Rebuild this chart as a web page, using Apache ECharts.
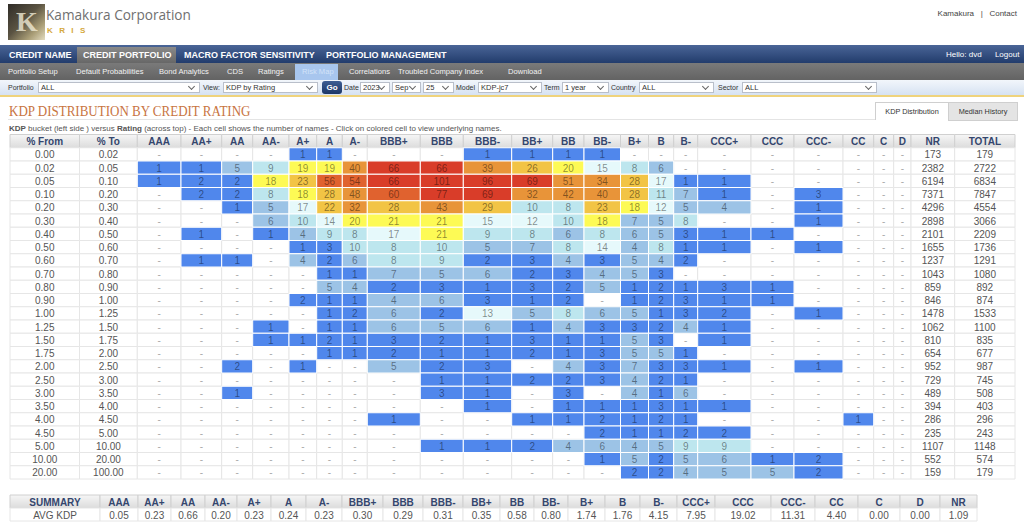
<!DOCTYPE html>
<html>
<head>
<meta charset="utf-8">
<script src="https://cdn.jsdelivr.net/npm/echarts@6/dist/echarts.min.js"></script>
<style>
  html,body{margin:0;padding:0;background:#fff;}
  body{width:1024px;height:527px;overflow:hidden;position:relative;font-family:"Liberation Sans",Arial,sans-serif;}
  .abs{position:absolute;white-space:nowrap;}
  .logo{left:8px;top:4px;width:37px;height:36px;background:linear-gradient(135deg,#2f2c27 0%,#5a5342 45%,#a99d76 75%,#e3dcc0 100%);overflow:hidden;}
  .logo span{position:absolute;left:8px;top:0;font:bold 28px/36px "Liberation Serif",serif;color:#efe9d3;opacity:.8;}
  .corp{left:46px;top:5px;font:13.6px/18px "Open Sans",sans-serif;color:#707070;transform:scaleY(1.1);transform-origin:0 0;}
  .kris{left:47px;top:26px;font:bold 8px/9px "Liberation Sans",Arial,sans-serif;color:#d5a83c;letter-spacing:6.4px;}
  .toplinks{right:7px;top:9px;font:8px "Liberation Sans",Arial;color:#444;}
  #nav{left:0;top:45px;width:1024px;height:18px;background:linear-gradient(#4a6597,#223c6c);}
  #nav .it{position:absolute;top:5px;font:bold 9px "Liberation Sans",Arial;color:#fff;}
  #nav .act{position:absolute;left:77px;top:2px;width:99px;height:16px;background:linear-gradient(#8a8a8a,#676767);}
  #sub{left:0;top:63px;width:1024px;height:17px;background:linear-gradient(#7a7a7a,#636363);}
  #sub .it{position:absolute;top:4px;font:7.6px "Liberation Sans",Arial;color:#f2f2f2;}
  #sub .act{position:absolute;left:295px;top:1px;width:43px;height:16px;background:#a8c6ee;}
  #flt{left:0;top:80px;width:1024px;height:15px;background:linear-gradient(#f2f6fb,#d6e2f2);border-bottom:2px solid #efd37c;}
  #flt .lb{position:absolute;top:4px;font:7px "Liberation Sans",Arial;color:#333;}
  #flt .sel{position:absolute;top:2px;height:11px;background:#fff;border:1px solid #b9bfca;font:7.5px "Liberation Sans",Arial;color:#333;line-height:10px;padding-left:2px;box-sizing:border-box;}
  #flt .sel i{position:absolute;right:5px;top:1px;width:4px;height:4px;border-right:1px solid #666;border-bottom:1px solid #666;transform:rotate(45deg);}
  #flt .go{position:absolute;left:322px;top:1px;width:20px;height:13px;border-radius:3px;background:linear-gradient(#3d5d93,#1d3766);color:#fff;font:bold 8px "Liberation Sans",Arial;text-align:center;line-height:13px;}
  .title{left:9px;top:102px;font:13px "Liberation Serif",serif;color:#c8743f;transform:scaleY(1.2);transform-origin:0 0;}
  .rule{left:8px;top:119px;width:867px;height:1px;background:#e4e4e4;}
  .tab1{left:875px;top:102px;width:72px;height:17px;border:1px solid #cfcfcf;border-bottom:none;background:#fff;font:7.3px "Liberation Sans",Arial;color:#333;text-align:center;line-height:17px;}
  .tab2{left:948px;top:102px;width:68px;height:17px;border:1px solid #cfcfcf;background:#e4e4e4;font:7.3px "Liberation Sans",Arial;color:#333;text-align:center;line-height:17px;}
  .desc{left:9px;top:124px;font:8px "Liberation Sans",Arial;color:#555;}
  #chart{position:absolute;left:0;top:130px;width:1024px;height:397px;}
</style>
</head>
<body>
<div class="abs logo"><span>K</span></div>
<div class="abs corp">Kamakura Corporation</div>
<div class="abs kris">KRIS</div>
<div class="abs toplinks">Kamakura &nbsp;&nbsp;|&nbsp;&nbsp; Contact</div>

<div class="abs" id="nav">
  <div class="act"></div>
  <span class="it" style="left:9px">CREDIT NAME</span>
  <span class="it" style="left:83px">CREDIT PORTFOLIO</span>
  <span class="it" style="left:184px">MACRO FACTOR SENSITIVITY</span>
  <span class="it" style="left:326px">PORTFOLIO MANAGEMENT</span>
  <span class="it" style="left:946px;font-weight:normal;font-size:8px;top:5px">Hello: dvd &nbsp;&nbsp;&nbsp;&nbsp; Logout</span>
</div>
<div class="abs" id="sub">
  <div class="act"></div>
  <span class="it" style="left:8px">Portfolio Setup</span>
  <span class="it" style="left:76px">Default Probabilities</span>
  <span class="it" style="left:159px">Bond Analytics</span>
  <span class="it" style="left:227px">CDS</span>
  <span class="it" style="left:258px">Ratings</span>
  <span class="it" style="left:302px;color:#d3e3f8">Risk Map</span>
  <span class="it" style="left:349px">Correlations</span>
  <span class="it" style="left:398px">Troubled Company Index</span>
  <span class="it" style="left:508px">Download</span>
</div>
<div class="abs" id="flt">
  <span class="lb" style="left:8px">Portfolio</span>
  <span class="sel" style="left:38px;width:162px">ALL<i></i></span>
  <span class="lb" style="left:203px">View:</span>
  <span class="sel" style="left:223px;width:95px">KDP by Rating<i></i></span>
  <span class="go">Go</span>
  <span class="lb" style="left:344px">Date</span>
  <span class="sel" style="left:360px;width:30px">2023<i></i></span>
  <span class="sel" style="left:392px;width:29px">Sep<i></i></span>
  <span class="sel" style="left:423px;width:31px">25<i></i></span>
  <span class="lb" style="left:456px">Model</span>
  <span class="sel" style="left:478px;width:64px">KDP-jc7<i></i></span>
  <span class="lb" style="left:544px">Term</span>
  <span class="sel" style="left:562px;width:47px">1 year<i></i></span>
  <span class="lb" style="left:611px">Country</span>
  <span class="sel" style="left:639px;width:75px">ALL<i></i></span>
  <span class="lb" style="left:718px">Sector</span>
  <span class="sel" style="left:742px;width:135px">ALL<i></i></span>
</div>
<div class="abs title" id="title">KDP DISTRIBUTION BY CREDIT RATING</div>
<div class="abs rule"></div>
<div class="abs tab1">KDP Distribution</div>
<div class="abs tab2">Median History</div>
<div class="abs desc"><b>KDP</b> bucket (left side ) versus <b>Rating</b> (across top) - Each cell shows the number of names - Click on colored cell to view underlying names.</div>

<div id="chart"></div>

<script>
// ---------------- DATA ----------------
const ratings = ['AAA','AA+','AA','AA-','A+','A','A-','BBB+','BBB','BBB-','BB+','BB','BB-','B+','B','B-','CCC+','CCC','CCC-','CC','C','D'];
const columns = ['% From','% To'].concat(ratings, ['NR','TOTAL']);
const kdpFrom = ['0.00','0.02','0.05','0.10','0.20','0.30','0.40','0.50','0.60','0.70','0.80','0.90','1.00','1.25','1.50','1.75','2.00','2.50','3.00','3.50','4.00','4.50','5.00','10.00','20.00'];
const kdpTo   = ['0.02','0.05','0.10','0.20','0.30','0.40','0.50','0.60','0.70','0.80','0.90','1.00','1.25','1.50','1.75','2.00','2.50','3.00','3.50','4.00','4.50','5.00','10.00','20.00','100.00'];
const _ = null;
// counts[row][rating] : number of names (null = "-")
const counts = [
  [_,_,_,_,1,1,_,_,_,1, 1,1,1,_,_,_,_,_,_,_,_,_],
  [1,1,5,9,19,19,40,66,66,39, 26,20,15,8,6,_,_,_,_,_,_,_],
  [1,2,2,18,23,56,54,66,101,96, 69,51,34,28,17,1,1,_,_,_,_,_],
  [_,2,2,8,18,28,48,60,77,69, 32,42,40,28,11,7,1,_,3,_,_,_],
  [_,_,1,5,17,22,32,28,43,29, 10,8,23,18,12,5,4,_,1,_,_,_],
  [_,_,_,6,10,14,20,21,21,15, 12,10,18,7,5,8,_,_,1,_,_,_],
  [_,1,_,1,4,9,8,17,21,9, 8,6,8,6,5,3,1,1,_,_,_,_],
  [_,_,_,_,1,3,10,8,10,5, 7,8,14,4,8,1,1,_,1,_,_,_],
  [_,1,1,_,4,2,6,8,9,2, 3,4,3,5,4,2,_,_,_,_,_,_],
  [_,_,_,_,_,1,1,7,5,6, 2,3,4,5,3,_,_,_,_,_,_,_],
  [_,_,_,_,_,5,4,2,3,1, 3,2,5,1,2,1,3,1,_,_,_,_],
  [_,_,_,_,2,1,1,4,6,3, 1,2,_,1,2,3,1,1,_,_,_,_],
  [_,_,_,_,_,1,2,6,2,13, 5,8,6,5,1,3,2,_,1,_,_,_],
  [_,_,_,1,_,1,1,6,5,6, 1,4,3,3,2,4,1,_,_,_,_,_],
  [_,_,_,1,1,2,1,3,2,1, 3,1,1,5,3,_,1,_,_,_,_,_],
  [_,_,_,_,_,1,1,2,1,1, 2,1,3,5,5,1,_,_,_,_,_,_],
  [_,_,2,_,1,_,_,5,2,3, _,4,3,7,3,3,1,_,1,_,_,_],
  [_,_,_,_,_,_,_,_,1,1, 2,2,3,4,2,1,_,_,_,_,_,_],
  [_,_,1,_,_,_,_,_,3,1, _,3,_,4,1,6,_,_,_,_,_,_],
  [_,_,_,_,_,_,_,_,_,1, _,1,1,1,3,1,1,_,_,_,_,_],
  [_,_,_,_,_,_,_,1,_,_, 1,1,2,1,2,1,_,_,_,1,_,_],
  [_,_,_,_,_,_,_,_,_,_, _,_,2,1,1,2,2,_,_,_,_,_],
  [_,_,_,_,_,_,_,_,1,1, 2,4,6,4,5,9,9,_,_,_,_,_],
  [_,_,_,_,_,_,_,_,_,_, _,_,1,5,2,5,6,1,2,_,_,_],
  [_,_,_,_,_,_,_,_,_,_, _,_,_,2,2,4,5,5,2,_,_,_]
];
const notRated = [173,2382,6194,7371,4296,2898,2101,1655,1237,1043,859,846,1478,1062,810,654,952,729,489,394,286,235,1107,552,159];
const totals   = [179,2722,6834,7847,4554,3066,2209,1736,1291,1080,892,874,1533,1100,835,677,987,745,508,403,296,243,1148,574,179];
const summaryHeader = ['SUMMARY'].concat(ratings, ['NR']);
const summaryLabel = 'AVG KDP';
const avgKdp = [0.05,0.23,0.66,0.20,0.23,0.24,0.23,0.30,0.29,0.31,0.35,0.58,0.80,1.74,1.76,4.15,7.95,19.02,11.31,4.40,0.00,0.00,1.09];

// ---------------- LAYOUT / STYLE ----------------
const colEdges = [10,79.5,137.3,181,221.7,252.7,289,316.7,342.3,367.3,420.3,463.3,511.7,552.7,584,620.5,648.5,673.7,697.7,751,794,843,873.7,893.7,911,954.7,1015];
const sumEdges = [10,100,138,171,205,237,271,306,342,383,423,463,500,534,568,605,640,677,715,771,815,858,900,940,977,1015];
const colorSteps = [[1,'#5087ec'],[4,'#9cc3e6'],[8,'#bde6ee'],[12,'#e6f9fb'],[18,'#fdfa55'],[22,'#f2c445'],[31,'#e89439'],[53,'#e0622f'],[66,'#d93d29']];
function cellColor(v){ let c=null; for(const s of colorSteps){ if(v>=s[0]) c=s[1]; } return c; }
const FONT = '"Liberation Sans", Arial, sans-serif';
const hdrFill = {type:'linear',x:0,y:0,x2:0,y2:1,colorStops:[{offset:0,color:'#f6f6f6'},{offset:1,color:'#dcdcdc'}]};

// ---------------- BUILD CELLS ----------------
const cells = [];   // {c, r, text, kind, v}
columns.forEach((name,c)=>cells.push({c, r:0, text:name, kind:'h'}));
kdpFrom.forEach((f,r)=>{
  cells.push({c:0, r:r+1, text:f, kind:'l'});
  cells.push({c:1, r:r+1, text:kdpTo[r], kind:'l'});
  counts[r].forEach((v,i)=>{
    cells.push({c:i+2, r:r+1, text: v==null?'-':String(v), kind: v==null?'b':'v', v});
  });
  cells.push({c:ratings.length+2, r:r+1, text:String(notRated[r]), kind:'l'});
  cells.push({c:ratings.length+3, r:r+1, text:String(totals[r]), kind:'l'});
});
// colored cells drawn last so their white borders sit on top
cells.sort((a,b)=>(a.kind==='v')-(b.kind==='v'));

const sumCells = [];
summaryHeader.forEach((name,c)=>sumCells.push({c, r:0, text:name, kind:'h'}));
sumCells.push({c:0, r:1, text:summaryLabel, kind:'l'});
avgKdp.forEach((v,i)=>sumCells.push({c:i+1, r:1, text:v.toFixed(2), kind:'l'}));

function makeRender(list, edges){
  return function(params, api){
    const d = list[params.dataIndex];
    const p0 = api.coord([edges[d.c], d.r]);
    const p1 = api.coord([edges[d.c+1], d.r]);
    const h = api.size([0,1])[1];
    const x0 = p0[0], x1 = p1[0], y0 = p0[1]-h/2;
    let fill='#fff', stroke='#e6e6e6', tcol='#555', weight='normal';
    if(d.kind==='h'){ fill=hdrFill; stroke='#d0d0d0'; tcol='#34466e'; weight='bold'; }
    else if(d.kind==='b'){ tcol='#aaa'; }
    else if(d.kind==='v'){ fill=cellColor(d.v); stroke='#ffffff'; tcol='rgba(0,0,0,0.45)'; }
    return {type:'group', children:[
      {type:'rect', shape:{x:x0, y:y0, width:x1-x0, height:h}, style:{fill, stroke, lineWidth:1}},
      {type:'text', style:{text:d.text, x:(x0+x1)/2, y:y0+h/2+0.5, align:'center', verticalAlign:'middle',
        fontSize:10, fontFamily:FONT, fontWeight:weight, fill:tcol}}
    ]};
  };
}

const chart = echarts.init(document.getElementById('chart'), null, {renderer:'svg'});
chart.setOption({
  animation:false,
  grid:[
    {left:10, top:4.5, width:1005, height:344.5},
    {left:10, top:365, width:1005, height:26}
  ],
  xAxis:[
    {type:'value', gridIndex:0, min:10, max:1015, show:false},
    {type:'value', gridIndex:1, min:10, max:1015, show:false}
  ],
  yAxis:[
    {type:'category', gridIndex:0, data:['header'].concat(kdpFrom), inverse:true, show:false},
    {type:'category', gridIndex:1, data:['header','avg'], inverse:true, show:false}
  ],
  series:[
    {type:'custom', xAxisIndex:0, yAxisIndex:0, renderItem:makeRender(cells, colEdges),
     data: cells.map(d=>[ (colEdges[d.c]+colEdges[d.c+1])/2, d.r ]), encode:{x:0,y:1}, silent:true, clip:false},
    {type:'custom', xAxisIndex:1, yAxisIndex:1, renderItem:makeRender(sumCells, sumEdges),
     data: sumCells.map(d=>[ (sumEdges[d.c]+sumEdges[d.c+1])/2, d.r ]), encode:{x:0,y:1}, silent:true, clip:false}
  ]
});
</script>
</body>
</html>
